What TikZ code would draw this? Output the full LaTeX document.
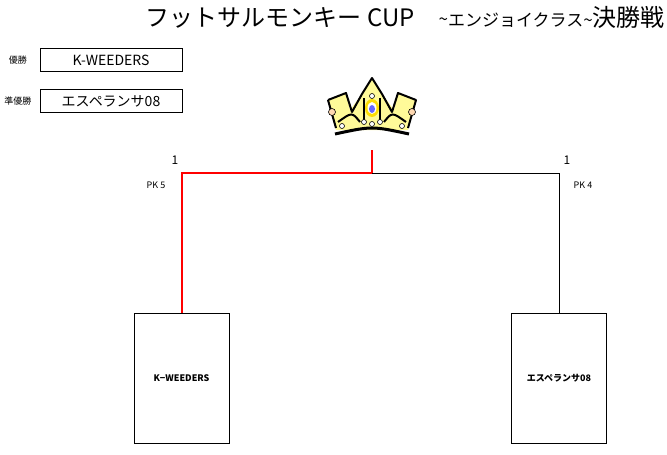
\documentclass[tikz,border=0pt]{standalone}
\usepackage{fontspec}
\setmainfont{Noto Sans CJK JP}
\begin{document}
\begin{tikzpicture}[x=1pt,y=-1pt,
  lbl/.style={font=\fontsize{9}{10}\selectfont,inner sep=0},
  namebox/.style={draw,minimum width=142pt,minimum height=23pt,inner sep=0,font=\fontsize{14}{15}\selectfont},
  teambox/.style={draw,thick,minimum width=95pt,minimum height=130pt,inner sep=0,font=\fontsize{9}{10}\selectfont},
  gem/.style={fill=white,draw=black,line width=0.6pt}]
\useasboundingbox (0,0) rectangle (667,455);
\node[inner sep=0,anchor=east] (title) at (665,17) {\fontsize{24}{26}\selectfont フットサルモンキー CUP\hspace{1em}\fontsize{17}{18}\selectfont\raisebox{1pt}{\textasciitilde}エンジョイクラス\textasciitilde\fontsize{24}{26}\selectfont 決勝戦};
\node[lbl] (l1) at (18,60) {優勝};
\node[namebox] (w) at (111,60) {K-WEEDERS};
\node[lbl] (l2) at (18,101) {準優勝};
\node[namebox] (r) at (111,101) {エスペランサ08};
% crown
\begin{scope}[shift={(372,108)}]
\fill[yellow!40!white] (-44,-8) -- (-26,-15) -- (-22,2) -- (-10,-14) -- (0,-30) -- (10,-14) -- (22,2) -- (26,-15) -- (44,-8) -- (36,22) -- (-36,22) -- cycle;
\draw[line width=2pt,line join=round] (-44,-8) -- (-26,-15) -- (-20,4) -- (-10,-14) -- (0,-30) -- (10,-14) -- (20,4) -- (26,-15) -- (44,-8) -- (36,20);
\draw[line width=2pt] (-44,-8) -- (-36,20);
\draw[line width=3pt] (-37,26) .. controls (0,18) .. (37,26);
\draw[line width=2pt] (-34,14) .. controls (-20,4) .. (-12,14) (12,14) .. controls (20,4) .. (34,14);
\draw[line width=2pt] (-8,-10) -- (-8,12) (8,-10) -- (8,12);
\fill[yellow!80!orange] (0,0) ellipse (7 and 9);
\fill[white] (0,0) ellipse (4.5 and 6);
\fill[blue!60] (0,1) ellipse (3 and 4);
\draw[gem] (0,-12) circle (2.5);
\draw[gem] (-8,14) circle (2.5) (0,16) circle (2.5) (8,14) circle (2.5);
\draw[gem,fill=orange!30] (-40,4) circle (3.5) (40,4) circle (3.5);
\draw[gem] (-30,18) circle (2.5) (30,18) circle (2.5);
\end{scope}
\coordinate (top) at (372,150);
\coordinate (mid) at (372,173);
\node[teambox] (a) at (181.5,378) {\bfseries K−WEEDERS};
\node[teambox] (b) at (559,378) {\bfseries エスペランサ08};
\draw[red,line width=2pt] (top) -- (mid) -| (a.north);
\draw[thin] (mid) -| (b.north);
\node[font=\fontsize{12}{13}\selectfont,inner sep=0] (s1) at (175,160) {1};
\node[font=\fontsize{12}{13}\selectfont,inner sep=0] (s2) at (567,160) {1};
\node[lbl] (p1) at (156,185) {PK 5};
\node[lbl] (p2) at (583,185) {PK 4};
\end{tikzpicture}
\end{document}
